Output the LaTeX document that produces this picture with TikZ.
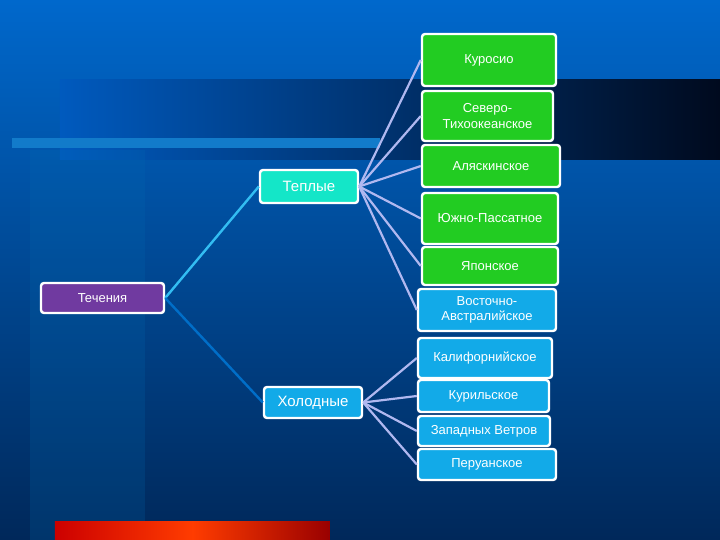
\documentclass[tikz,border=0pt]{standalone}
\usepackage{fontspec}
\setmainfont{Liberation Sans}
\usetikzlibrary{positioning}
\definecolor{boxgreen}{RGB}{34,204,34}
\definecolor{boxblue}{RGB}{18,170,232}
\definecolor{boxcyan}{RGB}{20,230,200}
\definecolor{boxviolet}{RGB}{112,58,160}
\definecolor{linklav}{RGB}{176,184,240}
\definecolor{coldlink}{RGB}{0,110,200}
\definecolor{bgtop}{RGB}{0,104,204}
\definecolor{bgbottom}{RGB}{0,40,90}
\definecolor{bandleft}{RGB}{0,90,190}
\definecolor{bandright}{RGB}{0,10,30}
\definecolor{barmid}{RGB}{255,60,0}
\tikzset{
  box/.style={draw=white, line width=1.2pt, rounded corners=1.5pt, text=white,
    font=\fontsize{6.5}{7.6}\selectfont, align=center, inner sep=0pt},
  warm/.style={box, fill=boxgreen},
  cold/.style={box, fill=boxblue},
  link/.style={linklav, line width=1.1pt}
}
\begin{document}
\begin{tikzpicture}[x=0.5pt,y=-0.5pt]
\useasboundingbox (0,0) rectangle (720,540);
% background
\shade [top color=bgtop, bottom color=bgbottom] (0,0) rectangle (720,540);
\shade [left color=bandleft, right color=bandright] (60,80) rectangle (720,160);
\fill [blue!40!cyan!70!black, opacity=0.2] (30,150) rectangle (145,540);
\fill [cyan!60!blue] (12,138) rectangle (380,148);
\shade [left color=red!80!black, right color=red!60!black, middle color=barmid] (55,522) rectangle (330,540);
% nodes
\node [box, fill=boxviolet, minimum width=61.5pt, minimum height=15pt] (tech) at (102.5,298) {Течения};
\node [box, fill=boxcyan, minimum width=49pt, minimum height=16.5pt, font=\fontsize{7.5}{9}\selectfont] (warmroot) at (309,186.5) {Теплые};
\node [cold, minimum width=49pt, minimum height=15.5pt, font=\fontsize{7.5}{9}\selectfont] (coldroot) at (313,402.5) {Холодные};
\node [warm, minimum width=67pt, minimum height=26pt] (w1) at (489,60) {Куросио};
\node [warm, minimum width=65.5pt, minimum height=25pt] (w2) at (487.5,116) {Северо-\\Тихоокеанское};
\node [warm, minimum width=69pt, minimum height=21pt] (w3) at (491,166) {Аляскинское};
\node [warm, minimum width=68pt, minimum height=25.5pt] (w4) at (490,218.5) {Южно-Пассатное};
\node [warm, minimum width=68pt, minimum height=19pt] (w5) at (490,266) {Японское};
\node [cold, minimum width=69pt, minimum height=21pt] (w6) at (487,310) {Восточно-\\Австралийское};
\node [cold, minimum width=67pt, minimum height=20pt] (c1) at (485,358) {Калифорнийское};
\node [cold, minimum width=65.5pt, minimum height=16pt] (c2) at (483.5,396) {Курильское};
\node [cold, minimum width=66pt, minimum height=15pt] (c3) at (484,431) {Западных Ветров};
\node [cold, minimum width=69pt, minimum height=15.5pt] (c4) at (487,464.5) {Перуанское};
% connectors
\draw [cyan!80!white, line width=1.2pt] (tech.east) -- (warmroot.west);
\draw [coldlink, line width=1.2pt] (tech.east) -- (coldroot.west);
\foreach \n in {w1,w2,w3,w4,w5,w6}
  \draw [link] (warmroot.east) -- (\n.west);
\foreach \n in {c1,c2,c3,c4}
  \draw [link] (coldroot.east) -- (\n.west);
\end{tikzpicture}
\end{document}
